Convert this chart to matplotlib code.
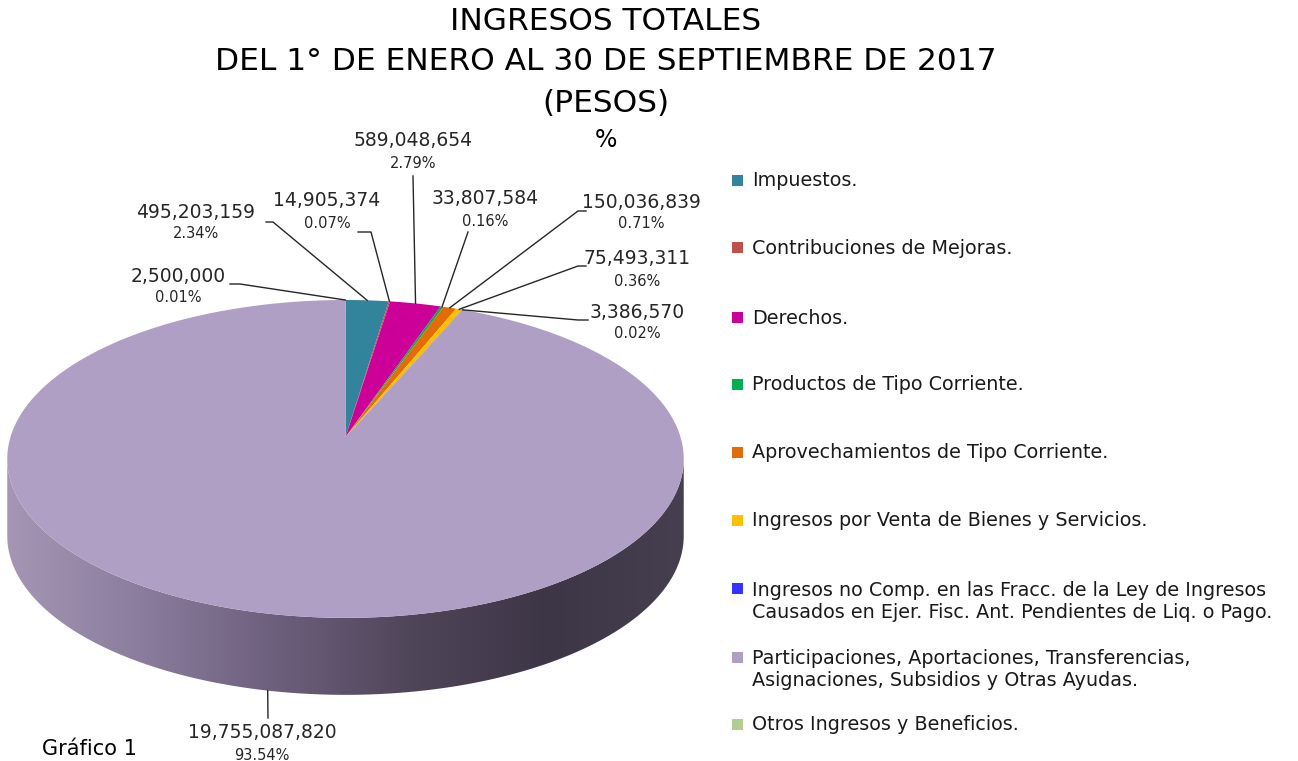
import numpy as np
import matplotlib
matplotlib.use("Agg")
import matplotlib.pyplot as plt
from matplotlib.patches import Polygon, Rectangle
from matplotlib.colors import LinearSegmentedColormap

# data, in legend order (= clockwise order from 12 o'clock)
categories = [
    "Impuestos.",
    "Contribuciones de Mejoras.",
    "Derechos.",
    "Productos de Tipo Corriente.",
    "Aprovechamientos de Tipo Corriente.",
    "Ingresos por Venta de Bienes y Servicios.",
    "Ingresos no Comp. en las Fracc. de la Ley de Ingresos\nCausados en Ejer. Fisc. Ant. Pendientes de Liq. o Pago.",
    "Participaciones, Aportaciones, Transferencias,\nAsignaciones, Subsidios y Otras Ayudas.",
    "Otros Ingresos y Beneficios.",
]
values = [495203159, 14905374, 589048654, 33807584, 150036839,
          75493311, 3386570, 19755087820, 2500000]
colors = ["#31849b", "#c0504d", "#cc0099", "#00b050", "#e36c09",
          "#ffc000", "#3333ff", "#b09fc5", "#b3cc8f"]

# label placement (pixels): text centre x, value y, leader start points
label_pos = [(196, 212), (327, 201), (413, 141), (485, 199), (641, 202),
             (637, 259), (637, 312), (262, 733), (178, 276)]
leader_start = [[(266, 222), (273, 222)],
                [(358, 232), (371, 232)],
                [(413, 176)],
                [(468, 232)],
                [(586, 211), (578, 211)],
                [(586, 266), (578, 266)],
                [(588, 320), (578, 320)],
                [(268, 718)],
                [(230, 284), (240, 284)]]
legend_y = [181, 248, 318, 385, 453, 521, 601, 670, 725]

W, H = 1298, 761
fig = plt.figure(figsize=(W / 100, H / 100), dpi=100)
ax = fig.add_axes([0, 0, 1, 1])

# pseudo-3D pie geometry (pixels)
cx, cy = 345.5, 437.0
ra, rb, persp = 335.0, 155.9, 0.138
depth = 77


def rim(theta):
    s = 1.0 / (1.0 + persp * np.cos(theta))
    return cx + ra * np.sin(theta) * s, cy - rb * np.cos(theta) * s


vals = np.array(values, dtype=float)
frac = vals / vals.sum()
edges = np.concatenate([[0], np.cumsum(frac)]) * 2 * np.pi

# side wall (front half) with horizontal gradient
t_front = np.linspace(np.arccos(-persp), 2 * np.pi - np.arccos(-persp), 300)
fx, fy = rim(t_front)
wall = np.concatenate([np.column_stack([fx, fy]),
                       np.column_stack([fx[::-1], fy[::-1] + depth])])
wall_patch = Polygon(wall, closed=True, facecolor="none", edgecolor="none")
ax.add_patch(wall_patch)
cmap = LinearSegmentedColormap.from_list(
    "wall", ["#a496b4", "#8a7c9c", "#6c5f7c", "#4f4559", "#3d3646", "#463f4f"])
grad = np.linspace(0, 1, 256).reshape(1, -1)
im = ax.imshow(grad, extent=(fx.min(), fx.max(), fy.max() + depth, fy.min()),
               cmap=cmap, aspect="auto", zorder=1)
im.set_clip_path(wall_patch)

# top face
for i, c in enumerate(colors):
    t = np.linspace(edges[i], edges[i + 1], max(3, int(frac[i] * 600)))
    x, y = rim(t)
    pts = np.column_stack([np.r_[cx, x], np.r_[cy, y]])
    ax.add_patch(Polygon(pts, closed=True, facecolor=c, edgecolor="none", zorder=2))

# data labels with leader lines
mids = (edges[:-1] + edges[1:]) / 2
for i, v in enumerate(values):
    mx, my = rim(mids[i])
    if i == 7:
        my = my + depth
    pts = leader_start[i] + [(mx, my)]
    ax.plot([p[0] for p in pts], [p[1] for p in pts], color="#262626", lw=1, zorder=3)
    lx, ly = label_pos[i]
    ax.text(lx, ly, f"{v:,}", ha="center", va="center", fontsize=13.5, color="#262626")
    ax.text(lx, ly + 22, f"{frac[i] * 100:.2f}%", ha="center", va="center",
            fontsize=10.5, color="#262626")

# legend
for i, (lab, c) in enumerate(zip(categories, colors)):
    ly = legend_y[i]
    if "\n" in lab:
        ly0 = ly - 12
    else:
        ly0 = ly
    ax.add_patch(Rectangle((732, ly0 - 6), 11, 11, facecolor=c, edgecolor="none"))
    ax.text(752, ly, lab, ha="left", va="center", fontsize=13.8, color="#1a1a1a",
            linespacing=1.2)

# titles
ax.text(606, 22, "INGRESOS TOTALES", ha="center", va="center", fontsize=22.5)
ax.text(606, 62, "DEL 1° DE ENERO AL 30 DE SEPTIEMBRE DE 2017", ha="center",
        va="center", fontsize=22.5)
ax.text(606, 103, "(PESOS)", ha="center", va="center", fontsize=22.5)
ax.text(606, 140, "%", ha="center", va="center", fontsize=17)
ax.text(42, 759, "Gráfico 1", ha="left", va="bottom", fontsize=15)

ax.set_xlim(0, W)
ax.set_ylim(H, 0)
ax.axis("off")
fig.savefig("out.png", dpi=100)
